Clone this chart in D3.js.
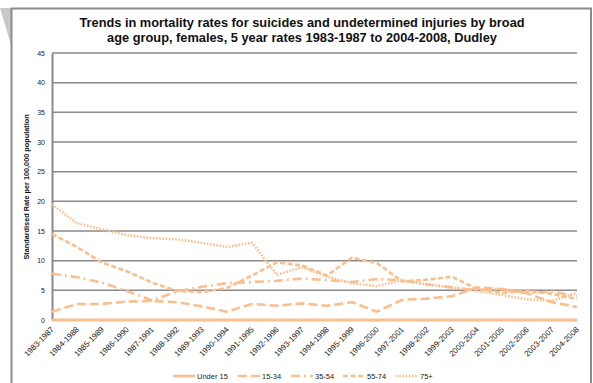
<!DOCTYPE html>
<html><head><meta charset="utf-8">
<script src="https://cdn.jsdelivr.net/npm/d3@7"></script>
<style>body{margin:0;background:#fff}svg{display:block;font-family:"Liberation Sans",Arial,sans-serif}</style>
</head><body>
<svg id="c" width="593" height="383"></svg>
<script>
const categories = ["1983-1987","1984-1988","1985-1989","1986-1990","1987-1991","1988-1992","1989-1993","1990-1994","1991-1995","1992-1996","1993-1997","1994-1998","1995-1999","1996-2000","1997-2001","1998-2002","1999-2003","2000-2004","2001-2005","2002-2006","2003-2007","2004-2008"];
const under15 = [0,0,0,0,0,0,0,0,0,0,0,0,0,0,0,0,0,0,0,0,0,0];
const age15_34 = [1.4,2.7,2.7,3.1,3.2,3.0,2.3,1.4,2.7,2.4,2.8,2.4,3.0,1.4,3.4,3.6,4.0,5.5,5.2,4.5,3.0,2.2];
const age35_54 = [7.8,7.2,6.3,4.9,3.3,4.8,5.6,6.2,6.4,6.6,7.0,6.7,6.4,6.9,6.7,6.0,5.5,5.0,5.2,4.5,4.8,4.0];
const age55_74 = [14.5,12.3,9.7,8.2,6.3,4.9,4.7,5.4,7.5,9.7,9.2,7.5,10.5,9.6,6.5,6.8,7.3,5.2,4.6,4.9,4.4,3.5];
const age75plus = [19.5,16.3,15.3,14.3,13.8,13.6,13.0,12.3,13.0,7.6,8.9,7.3,6.2,5.7,6.7,6.0,5.5,4.9,4.2,3.5,3.2,4.6];
const seriesNames = ["Under 15","15-34","35-54","55-74","75+"];
const yTicks = [0,5,10,15,20,25,30,35,40,45];

const svg = d3.select("#c");
const col = "#f9bf8f";
const dashes = [null,"9,4","9,4,2,4","5,2.5","1.6,1.6"];
const data = [under15, age15_34, age35_54, age55_74, age75plus];

svg.append("polygon").attr("points","0,8 11,8 11,45").attr("fill","#c8c8c8");
svg.append("rect").attr("x",11.5).attr("y",8.5).attr("width",579.5).attr("height",390)
  .attr("fill","none").attr("stroke","#8c8c8c").attr("stroke-width",2);

const x = d3.scalePoint().domain(categories).range([52,577]);
const y = d3.scaleLinear().domain([0,45]).range([320,53]);

svg.append("g").selectAll("line").data(yTicks.filter(d=>d>0)).join("line")
  .attr("x1",52).attr("x2",577).attr("y1",d=>y(d)).attr("y2",d=>y(d))
  .attr("stroke","#8a8a8a").attr("stroke-width",1.5);

const ya = svg.append("g").attr("transform","translate(52,0)")
  .call(d3.axisLeft(y).tickValues(yTicks).tickSize(0).tickPadding(7));
ya.select(".domain").attr("stroke","#8a8a8a").attr("stroke-width",2);
ya.selectAll("text").attr("font-size",7).attr("fill","#222").attr("font-family","Liberation Sans, Arial");

const xa = svg.append("g").attr("transform","translate(0,320)")
  .call(d3.axisBottom(x).tickSize(0).tickPadding(0));
xa.select(".domain").remove();
xa.selectAll("text").attr("font-size",8).attr("fill","#222").attr("font-family","Liberation Sans, Arial")
  .attr("text-anchor","end").attr("dy",0)
  .attr("transform","translate(2,10) rotate(-45)");

const line = d3.line().x((d,i)=>x(categories[i])).y(d=>y(d)).curve(d3.curveLinear);
data.forEach((s,k)=>{
  svg.append("path").datum(s).attr("d",line).attr("fill","none")
    .attr("stroke",col).attr("stroke-width",k===0?3:2.6)
    .attr("stroke-dasharray",dashes[k]).attr("stroke-linejoin","round");
});

const t = svg.append("text").attr("text-anchor","middle").attr("font-weight","bold").attr("font-size",12.8).attr("fill","#111");
t.append("tspan").attr("x",302).attr("y",27).text("Trends in mortality rates for suicides and undetermined injuries by broad");
t.append("tspan").attr("x",302).attr("y",42).text("age group, females, 5 year rates 1983-1987 to 2004-2008, Dudley");

svg.append("text").attr("transform","translate(29,187) rotate(-90)").attr("text-anchor","middle")
  .attr("font-weight","bold").attr("font-size",7.3).attr("fill","#111")
  .text("Standardised Rate per 100,000 population");

const lx = [173,238,291,343,396];
seriesNames.forEach((n,k)=>{
  const g = svg.append("g");
  g.append("line").attr("x1",lx[k]).attr("x2",lx[k]+22).attr("y1",376).attr("y2",376)
    .attr("stroke",col).attr("stroke-width",2.6).attr("stroke-dasharray",dashes[k]);
  g.append("text").attr("x",lx[k]+24).attr("y",378.5).attr("font-size",7.5).attr("fill","#222").text(n);
});
</script>
</body></html>
